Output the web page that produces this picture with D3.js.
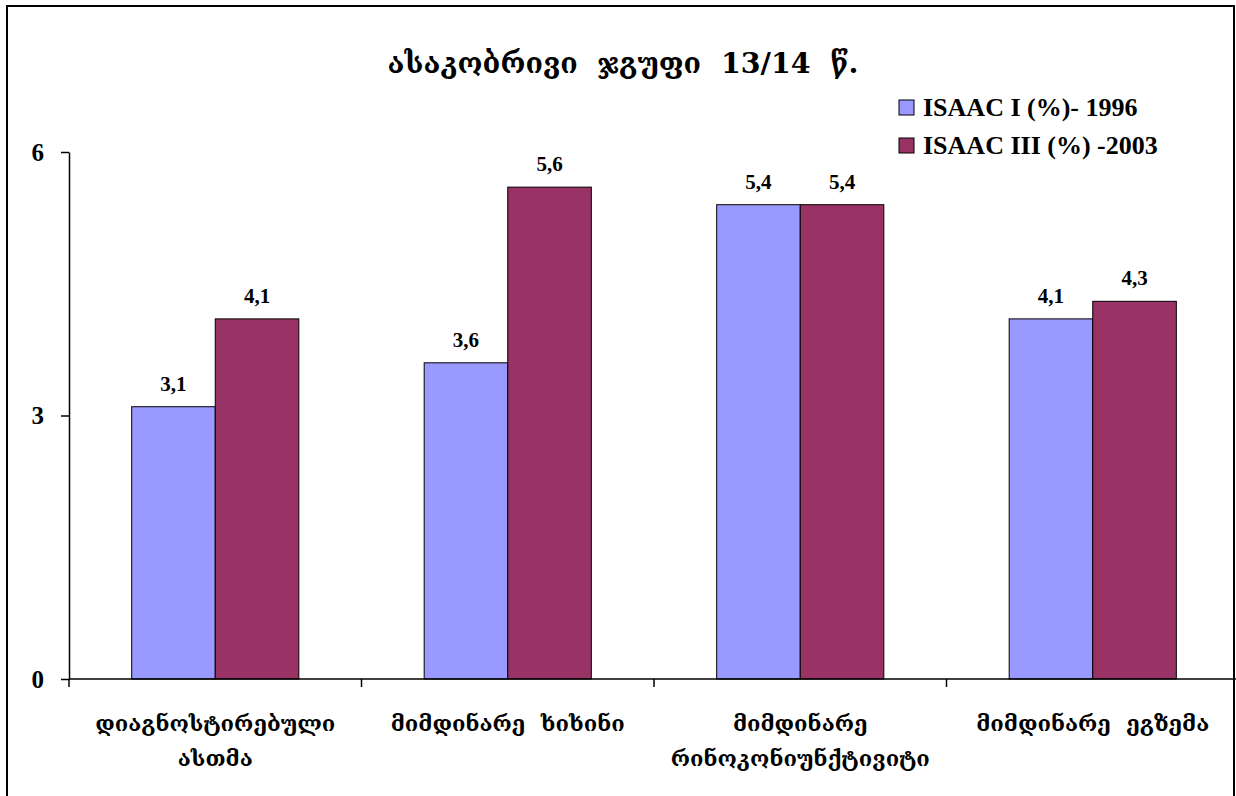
<!DOCTYPE html>
<html>
<head>
<meta charset="utf-8">
<script src="https://cdn.jsdelivr.net/npm/d3@7"></script>
<style>
  html, body { margin: 0; padding: 0; background: #fff; }
  svg { display: block; }
</style>
</head>
<body>
<svg id="chart" width="1236" height="796"></svg>
<script>
// ---- data ----
const title = "ასაკობრივი  ჯგუფი  13/14  წ.";
const categories = [
  "დიაგნოსტირებული\nასთმა",
  "მიმდინარე  ხიხინი",
  "მიმდინარე\nრინოკონიუნქტივიტი",
  "მიმდინარე  ეგზემა"
];
const seriesNames = ["ISAAC I (%)- 1996", "ISAAC III (%) -2003"];
const isaac1 = [3.1, 3.6, 5.4, 4.1];
const isaac3 = [4.1, 5.6, 5.4, 4.3];
const yTicks = [0, 3, 6];
const colors = ["#9999FF", "#993366"];

// ---- layout ----
const svg = d3.select("#chart");
const W = 1236, H = 796;
const plot = { left: 69, right: 1239, top: 152, bottom: 679 };
const georgianFont = "'DejaVu Serif', 'DejaVu Sans', serif";
const serifFont = "'Liberation Serif', 'Times New Roman', serif";

svg.append("rect").attr("width", W).attr("height", H).attr("fill", "#fff");
svg.append("rect")
  .attr("x", 7).attr("y", 6).attr("width", 1227).attr("height", 820)
  .attr("fill", "none").attr("stroke", "#000").attr("stroke-width", 2);

const x0 = d3.scaleBand().domain(d3.range(categories.length))
  .range([plot.left, plot.right]).paddingInner(0).paddingOuter(0);
const x1 = d3.scaleBand().domain(d3.range(seriesNames.length))
  .range([0, x0.bandwidth()]).paddingInner(0).paddingOuter(0.75);
const y = d3.scaleLinear().domain([0, 6]).range([plot.bottom, plot.top]);

const fmt = v => d3.format(".1f")(v).replace(".", ",");
const seriesValues = [isaac1, isaac3];

// bars
const groups = svg.append("g").selectAll("g")
  .data(categories.map((c, i) => i))
  .join("g")
  .attr("transform", i => `translate(${x0(i)},0)`);

groups.selectAll("rect")
  .data(i => seriesValues.map((s, k) => ({ k, v: s[i] })))
  .join("rect")
  .attr("x", d => x1(d.k))
  .attr("y", d => y(d.v))
  .attr("width", x1.bandwidth())
  .attr("height", d => y(0) - y(d.v))
  .attr("fill", d => colors[d.k])
  .attr("stroke", "#000")
  .attr("stroke-width", 1);

groups.selectAll("text.val")
  .data(i => seriesValues.map((s, k) => ({ k, v: s[i] })))
  .join("text")
  .attr("class", "val")
  .attr("x", d => x1(d.k) + x1.bandwidth() / 2)
  .attr("y", d => y(d.v) - 16)
  .attr("text-anchor", "middle")
  .attr("font-family", serifFont)
  .attr("font-weight", "bold")
  .attr("font-size", 21)
  .text(d => fmt(d.v));

// y axis
const yAxis = d3.axisLeft(y).tickValues(yTicks).tickSize(8).tickSizeOuter(0).tickPadding(17)
  .tickFormat(d3.format("d"));
const gy = svg.append("g").attr("transform", `translate(${plot.left},0)`).call(yAxis);
gy.select(".domain").attr("stroke", "#000").attr("stroke-width", 1.5);
gy.selectAll(".tick line").attr("stroke", "#000").attr("stroke-width", 1.5);
gy.selectAll(".tick text")
  .attr("font-family", serifFont).attr("font-weight", "bold").attr("font-size", 25)
  .attr("fill", "#000");

// x axis
svg.append("line")
  .attr("x1", plot.left).attr("x2", W).attr("y1", y(0)).attr("y2", y(0))
  .attr("stroke", "#000").attr("stroke-width", 1.5);
svg.append("g").selectAll("line")
  .data(d3.range(categories.length + 1))
  .join("line")
  .attr("x1", i => i < categories.length ? x0(i) : plot.right)
  .attr("x2", i => i < categories.length ? x0(i) : plot.right)
  .attr("y1", y(0)).attr("y2", y(0) + 8)
  .attr("stroke", "#000").attr("stroke-width", 1.5);

// category labels
const catG = svg.append("g").selectAll("text")
  .data(categories.map((c, i) => ({ c, i })))
  .join("text")
  .attr("x", d => x0(d.i) + x0.bandwidth() / 2)
  .attr("y", 731)
  .attr("text-anchor", "middle")
  .attr("font-family", georgianFont)
  .attr("font-weight", "bold")
  .attr("font-size", 22)
  .attr("fill", "#000")
  .style("white-space", "pre");
catG.each(function(d) {
  const lines = d.c.split("\n");
  d3.select(this).selectAll("tspan").data(lines).join("tspan")
    .attr("x", x0(d.i) + x0.bandwidth() / 2)
    .attr("dy", (l, j) => j === 0 ? 0 : 35)
    .text(l => l);
});

// title
svg.append("text")
  .attr("x", 623).attr("y", 73)
  .attr("text-anchor", "middle")
  .attr("font-family", georgianFont)
  .attr("font-weight", "bold")
  .attr("font-size", 28.5)
  .style("white-space", "pre")
  .text(title);

// legend
const leg = svg.append("g").attr("transform", "translate(899,100)");
const li = leg.selectAll("g").data(seriesNames.map((n, k) => ({ n, k })))
  .join("g").attr("transform", d => `translate(0,${d.k * 38})`);
li.append("rect").attr("x", 0).attr("y", 0).attr("width", 15).attr("height", 15)
  .attr("fill", d => colors[d.k]).attr("stroke", "#000").attr("stroke-width", 1);
li.append("text").attr("x", 24).attr("y", 16)
  .attr("font-family", serifFont).attr("font-weight", "bold").attr("font-size", 26)
  .text(d => d.n);
</script>
</body>
</html>
